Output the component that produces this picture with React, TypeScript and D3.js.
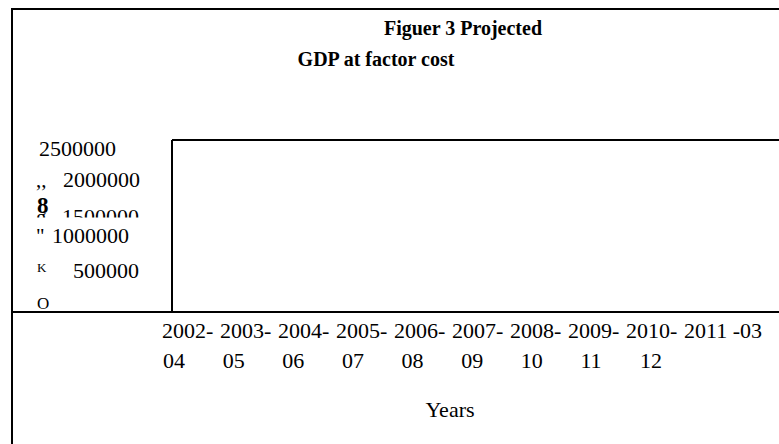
import { useEffect, useRef } from "react";
import * as d3 from "d3";

// ── Data ──────────────────────────────────────────────────────
const title = ["Figuer 3 Projected", "GDP at factor cost"];
const yTicks = [2500000, 2000000, 1500000, 1000000, 500000];
const yPrefix = ["", ",,", "g", "\"", "K"];
const zeroLabel = "O";
const axisGlyph = "8";
const yearsTop = ["2002-", "2003-", "2004-", "2005-", "2006-", "2007-", "2008-", "2009-", "2010-", "2011 -03"];
const yearsBottom = ["04", "05", "06", "07", "08", "09", "10", "11", "12"];
const xTitle = "Years";

export default function App() {
  const svgRef = useRef<SVGSVGElement>(null);

  useEffect(() => {
    if (!svgRef.current) return;
    const svg = d3.select(svgRef.current);
    svg.selectAll("*").remove();

    const width = 779;
    const height = 444;
    const font = "'Liberation Serif', 'Times New Roman', serif";

    // plot box
    const box = { left: 172, top: 140, right: 779, bottom: 312 };

    const y = d3.scaleLinear().domain([0, 2500000]).range([302, 148]);
    const x = d3.scalePoint<string>().domain(yearsTop).range([162, 684]);
    const x2 = d3.scalePoint<string>().domain(yearsBottom).range([163, 640]);

    // the scanned labels sit unevenly: right edge and baseline nudge per label
    const yLabelRight = [116, 140, 139, 129, 139];
    const yLabelDy = [8, 8, 14, 3, 7];

    // ── Outer frame ──────────────────────────────────────────
    svg.append("line").attr("x1", 11).attr("x2", width).attr("y1", 9).attr("y2", 9)
      .attr("stroke", "#000").attr("stroke-width", 2);
    svg.append("line").attr("x1", 12).attr("x2", 12).attr("y1", 8).attr("y2", height)
      .attr("stroke", "#000").attr("stroke-width", 2);

    // ── Plot box ─────────────────────────────────────────────
    svg.append("line").attr("x1", box.left).attr("x2", box.right).attr("y1", box.top).attr("y2", box.top)
      .attr("stroke", "#000").attr("stroke-width", 2);
    svg.append("line").attr("x1", box.left).attr("x2", box.left).attr("y1", box.top).attr("y2", box.bottom)
      .attr("stroke", "#000").attr("stroke-width", 2);
    svg.append("line").attr("x1", 11).attr("x2", box.right).attr("y1", box.bottom).attr("y2", box.bottom)
      .attr("stroke", "#000").attr("stroke-width", 2);

    // ── Titles ───────────────────────────────────────────────
    svg.append("text").attr("x", 463).attr("y", 35).attr("text-anchor", "middle")
      .attr("font-family", font).attr("font-size", 20).attr("font-weight", "bold").text(title[0]);
    svg.append("text").attr("x", 376).attr("y", 66).attr("text-anchor", "middle")
      .attr("font-family", font).attr("font-size", 20).attr("font-weight", "bold").text(title[1]);

    // ── Y labels ─────────────────────────────────────────────
    svg.append("defs").append("clipPath").attr("id", "cut")
      .append("rect").attr("x", 0).attr("y", 0).attr("width", 170).attr("height", y(1500000) + 8);

    yTicks.forEach((t, i) => {
      const g = svg.append("g").attr("clip-path", t === 1500000 ? "url(#cut)" : null);
      g.append("text").attr("x", yLabelRight[i]).attr("y", y(t) + yLabelDy[i]).attr("text-anchor", "end")
        .attr("font-family", font).attr("font-size", 22).text(t);
      if (yPrefix[i]) {
        const small = yPrefix[i] === "K";
        g.append("text").attr("x", small ? 37 : 36).attr("y", y(t) + (small ? 1 : yLabelDy[i]))
          .attr("font-family", font).attr("font-size", small ? 13 : 21).text(yPrefix[i]);
      }
    });
    svg.append("text").attr("x", 37).attr("y", y(1750000) + 19)
      .attr("font-family", font).attr("font-size", 23).attr("font-weight", "bold").text(axisGlyph);
    svg.append("text").attr("x", 37).attr("y", y(0) + 7)
      .attr("font-family", font).attr("font-size", 17).text(zeroLabel);

    // ── X labels ─────────────────────────────────────────────
    yearsTop.forEach((d) => {
      svg.append("text").attr("x", x(d)!).attr("y", 338)
        .attr("font-family", font).attr("font-size", 22).text(d);
    });
    yearsBottom.forEach((d) => {
      svg.append("text").attr("x", x2(d)!).attr("y", 368)
        .attr("font-family", font).attr("font-size", 22).text(d);
    });
    svg.append("text").attr("x", 450).attr("y", 417).attr("text-anchor", "middle")
      .attr("font-family", font).attr("font-size", 22).text(xTitle);
  }, []);

  return (
    <div style={{ position: "fixed", left: 0, top: 0 }}>
      <svg ref={svgRef} width={779} height={444} style={{ display: "block", background: "#fff" }} />
    </div>
  );
}
